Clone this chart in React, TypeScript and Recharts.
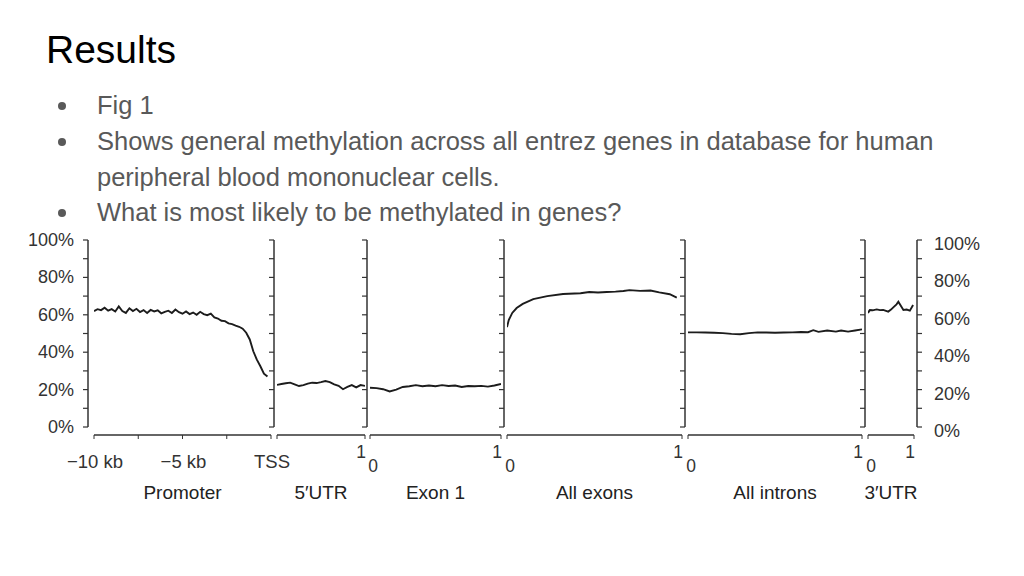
import React from "react";
import { LineChart, Line, XAxis, YAxis } from "recharts";

// methylation (%) along gene regions
const yTicks = [0, 10, 20, 30, 40, 50, 60, 70, 80, 90, 100];
const yLabels: Record<number, string> = { 0: "0%", 20: "20%", 40: "40%", 60: "60%", 80: "80%", 100: "100%" };

const promoterKb = [
  -10, -9.8, -9.6, -9.4, -9.2, -9, -8.8, -8.6, -8.4, -8.2,
  -8, -7.8, -7.6, -7.4, -7.2, -7, -6.8, -6.6, -6.4, -6.2,
  -6, -5.8, -5.6, -5.4, -5.2, -5, -4.8, -4.6, -4.4, -4.2,
  -4, -3.8, -3.6, -3.4, -3.2, -3, -2.8, -2.6, -2.4, -2.2,
  -2, -1.8, -1.6, -1.4, -1.2, -1, -0.8, -0.6, -0.4, -0.2,
];
const promoterMeth = [
  62.0, 63.0, 62.5, 63.8, 62.2, 63.0, 61.8, 64.5, 62.0, 61.0,
  63.5, 62.0, 63.2, 61.5, 62.5, 61.0, 62.6, 61.8, 62.4, 60.8,
  61.6, 62.2, 61.0, 62.8, 61.4, 60.6, 61.8, 60.4, 61.2, 60.0,
  61.6, 60.4, 59.8, 60.6, 58.6, 58.0, 56.8, 56.6, 55.4, 55.0,
  54.2, 53.6, 52.6, 50.4, 46.8, 40.5, 36.0, 32.5, 28.5, 27.0,
];
const promoterTicks = [-10, -7.5, -5, -2.5, 0];
const promoterTickLabels = ["\u221210 kb", "", "\u22125 kb", "", "TSS"];

const relPos21 = [0, 0.05, 0.1, 0.15, 0.2, 0.25, 0.3, 0.35, 0.4, 0.45, 0.5, 0.55, 0.6, 0.65, 0.7, 0.75, 0.8, 0.85, 0.9, 0.95, 1];

const utr5Meth = [22.5, 23.0, 23.4, 23.7, 22.8, 21.9, 22.4, 23.2, 23.7, 23.5, 24.0, 24.6, 24.0, 22.8, 22.0, 20.2, 21.4, 22.4, 21.2, 22.4, 22.0];

const exon1Meth = [21.0, 20.8, 20.2, 19.0, 20.0, 21.4, 21.8, 22.4, 21.8, 22.2, 21.8, 22.4, 21.9, 22.2, 21.4, 21.9, 21.8, 22.0, 21.6, 22.2, 23.0];

const exonsPos = [0, 0.01, 0.03, 0.055, 0.09, 0.15, 0.23, 0.32, 0.42, 0.47, 0.52, 0.57, 0.62, 0.665, 0.7, 0.76, 0.82, 0.87, 0.93, 0.97];
const exonsMeth = [53.4, 57.2, 61.0, 63.6, 65.8, 68.4, 70.0, 71.1, 71.5, 72.2, 71.9, 72.2, 72.4, 72.7, 73.2, 72.8, 73.0, 72.0, 71.0, 69.2];

const intronsPos = [0, 0.05, 0.1, 0.15, 0.2, 0.25, 0.3, 0.35, 0.4, 0.45, 0.5, 0.55, 0.6, 0.65, 0.69, 0.72, 0.75, 0.8, 0.85, 0.88, 0.92, 0.96, 1];
const intronsMeth = [50.6, 50.6, 50.5, 50.4, 50.2, 49.8, 49.6, 50.2, 50.6, 50.5, 50.4, 50.5, 50.6, 50.8, 50.7, 51.8, 50.9, 51.6, 51.0, 51.6, 51.0, 51.6, 52.2];

const utr3Pos = [0, 0.04, 0.1, 0.19, 0.26, 0.33, 0.44, 0.5, 0.55, 0.62, 0.66, 0.72, 0.77, 0.84, 0.91, 0.98];
const utr3Meth = [61.0, 62.6, 62.4, 62.9, 62.5, 62.6, 61.7, 62.8, 64.0, 65.6, 67.0, 64.6, 62.6, 62.8, 62.2, 65.2];

const unitTicks = [0, 1];

const FONT = "'Liberation Sans', Arial, Helvetica, sans-serif";
const INK = "#333";
const PLOT_TOP = 240;
const PLOT_H = 187;

const toRows = (xs: number[], ys: number[]) => xs.map((x, i) => ({ x, y: ys[i] }));

function PromoterTick({ x, y, payload }: any) {
  const i = promoterTicks.indexOf(payload.value);
  return (
    <text x={x + 1} y={y + 28} textAnchor="middle" dominantBaseline="central" fontSize={18.5} fill={INK} fontFamily={FONT}>
      {promoterTickLabels[i]}
    </text>
  );
}

function UnitTick({ x, y, payload, hideZero }: any) {
  const v = payload.value;
  if (v === 0 && hideZero) return null;
  const isEnd = v === 1;
  return (
    <text x={x + (isEnd ? -4 : 3)} y={y + (isEnd ? 19 : 33)} textAnchor="middle" dominantBaseline="central" fontSize={17.5} fill={INK} fontFamily={FONT}>
      {String(v)}
    </text>
  );
}

function BlankTick() {
  return null;
}

function LeftTick({ x, y, payload }: any) {
  const t = yLabels[payload.value];
  if (!t) return null;
  return (
    <text x={x - 5} y={y} textAnchor="end" dominantBaseline="central" fontSize={18} fill={INK} fontFamily={FONT}>
      {t}
    </text>
  );
}

function RightTick({ x, y, payload }: any) {
  const t = yLabels[payload.value];
  if (!t) return null;
  return (
    <text x={x + 3} y={y + 4} textAnchor="start" dominantBaseline="central" fontSize={18} fill={INK} fontFamily={FONT}>
      {t}
    </text>
  );
}

type PanelProps = {
  plotLeft: number;
  plotWidth: number;
  rows: { x: number; y: number }[];
  domain: [number, number];
  xTicks: number[];
  tick: any;
  title: string;
  leftLabels?: boolean;
  rightAxis?: boolean;
};

function Panel(p: PanelProps) {
  const wL = p.leftLabels ? 70 : 10;
  const wR = p.rightAxis ? 80 : 0;
  return (
    <div className={"panel " + (p.leftLabels ? "s6" : "s3")} style={{ position: "absolute", left: p.plotLeft - wL, top: PLOT_TOP - 10 }}>
      <LineChart width={wL + p.plotWidth + wR} height={10 + PLOT_H + 70} data={p.rows} margin={{ top: 10, right: 0, bottom: 0, left: 0 }}>
        <XAxis
          type="number"
          dataKey="x"
          domain={p.domain}
          ticks={p.xTicks}
          interval={0}
          allowDataOverflow
          height={70}
          tickSize={4}
          stroke={INK}
          axisLine={{ stroke: INK, strokeWidth: 1.4 }}
          tick={p.tick}
          label={{ value: p.title, position: "insideBottom", offset: -2, fill: "#222", fontSize: 19, fontFamily: FONT }}
        />
        <YAxis
          yAxisId="l"
          className="yl"
          type="number"
          domain={[0, 100]}
          ticks={yTicks}
          interval={0}
          width={wL}
          tickSize={5}
          tickMargin={10}
          stroke={INK}
          axisLine={{ stroke: INK, strokeWidth: 1.5 }}
          tickLine={{ stroke: INK, strokeWidth: 1.2 }}
          tick={p.leftLabels ? <LeftTick /> : <BlankTick />}
        />
        {p.rightAxis && (
          <YAxis
            yAxisId="r"
            className="yr"
            type="number"
            orientation="right"
            domain={[0, 100]}
            ticks={yTicks}
            interval={0}
            width={wR}
            tickSize={5}
            tickMargin={12}
            stroke={INK}
            axisLine={{ stroke: INK, strokeWidth: 1.5 }}
            tickLine={{ stroke: INK, strokeWidth: 1.2 }}
            tick={<RightTick />}
          />
        )}
        {p.rightAxis && (
          <Line yAxisId="r" dataKey="y" type="linear" stroke="none" dot={false} isAnimationActive={false} />
        )}
        <Line yAxisId="l" dataKey="y" type="linear" stroke="#1c1c1c" strokeWidth={1.9} dot={false} isAnimationActive={false} />
      </LineChart>
    </div>
  );
}

const css = `
.panel svg { overflow: visible; }
.panel .recharts-xAxis { transform: translateY(8px); }
.panel.s3 .recharts-yAxis.yl { transform: translateX(-3px); }
.panel.s6 .recharts-yAxis.yl { transform: translateX(-6px); }
.panel .recharts-yAxis.yr { transform: translateX(3px); }
`;

const bulletLines = [
  { text: "Fig 1", top: 93, dot: true },
  { text: "Shows general methylation across all entrez genes in database for human", top: 129, dot: true },
  { text: "peripheral blood mononuclear cells.", top: 165, dot: false },
  { text: "What is most likely to be methylated in genes?", top: 200, dot: true },
];

export default function App() {
  return (
    <div style={{ position: "absolute", left: 0, top: 0, width: 1024, height: 576, background: "#fff", overflow: "hidden", fontFamily: FONT }}>
      <style>{css}</style>
      <div style={{ position: "absolute", left: 46, top: 30, fontSize: 39, lineHeight: "39px", color: "#000" }}>Results</div>
      {bulletLines.map((b) => (
        <React.Fragment key={b.text}>
          {b.dot && (
            <div style={{ position: "absolute", left: 58, top: b.top + 9, width: 8, height: 8, borderRadius: 4, background: "#595959" }} />
          )}
          <div style={{ position: "absolute", left: 97, top: b.top, fontSize: 25.5, lineHeight: "25.5px", color: "#595959", whiteSpace: "nowrap" }}>
            {b.text}
          </div>
        </React.Fragment>
      ))}

      <Panel plotLeft={94} plotWidth={177} rows={toRows(promoterKb, promoterMeth)} domain={[-10, 0]} xTicks={promoterTicks} tick={<PromoterTick />} title="Promoter" leftLabels />
      <Panel plotLeft={277} plotWidth={88} rows={toRows(relPos21, utr5Meth)} domain={[0, 1]} xTicks={unitTicks} tick={<UnitTick hideZero />} title={"5\u2032UTR"} />
      <Panel plotLeft={370} plotWidth={131} rows={toRows(relPos21, exon1Meth)} domain={[0, 1]} xTicks={unitTicks} tick={<UnitTick />} title="Exon 1" />
      <Panel plotLeft={507} plotWidth={175} rows={toRows(exonsPos, exonsMeth)} domain={[0, 1]} xTicks={unitTicks} tick={<UnitTick />} title="All exons" />
      <Panel plotLeft={688} plotWidth={174} rows={toRows(intronsPos, intronsMeth)} domain={[0, 1]} xTicks={unitTicks} tick={<UnitTick />} title="All introns" />
      <Panel plotLeft={868} plotWidth={46} rows={toRows(utr3Pos, utr3Meth)} domain={[0, 1]} xTicks={unitTicks} tick={<UnitTick />} title={"3\u2032UTR"} rightAxis />
    </div>
  );
}
